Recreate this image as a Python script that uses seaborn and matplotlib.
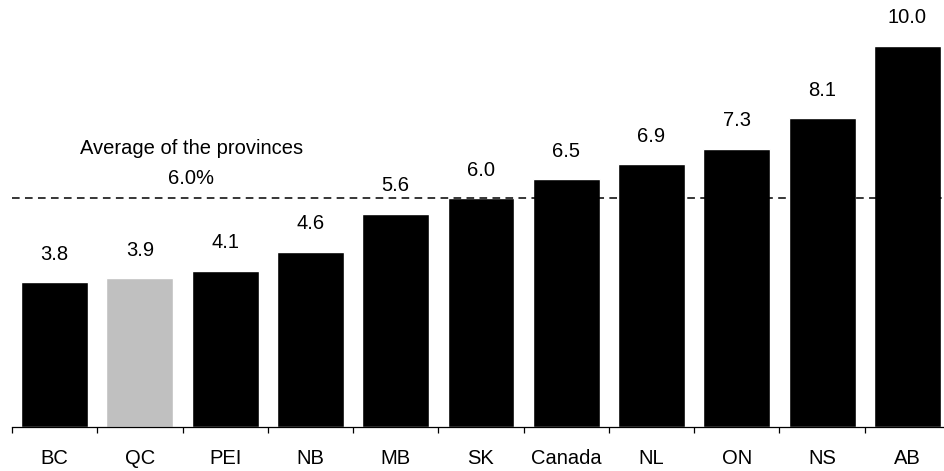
import matplotlib
matplotlib.use("Agg")
import matplotlib.pyplot as plt
import seaborn as sns
import pandas as pd

regions = ["BC", "QC", "PEI", "NB", "MB", "SK", "Canada", "NL", "ON", "NS", "AB"]
values = [3.8, 3.9, 4.1, 4.6, 5.6, 6.0, 6.5, 6.9, 7.3, 8.1, 10.0]
highlight = "QC"
provinces_avg = 6.0

sns.set_theme(style="white")
plt.rcParams["font.family"] = ["Liberation Sans", "DejaVu Sans"]
plt.rcParams["text.color"] = "black"

df = pd.DataFrame({"region": regions, "value": values})
colors = {r: ("#c0c0c0" if r == highlight else "black") for r in regions}

fig = plt.figure(figsize=(9.45, 4.71), dpi=100)
ax = fig.add_axes([12 / 945, 44 / 471, 938 / 945, 427 / 471])

sns.barplot(data=df, x="region", y="value", hue="region", palette=colors,
            order=regions, width=0.785, saturation=1, legend=False, ax=ax)

ax.set_xlim(-0.5, len(regions) - 0.5)
ax.set_ylim(0, 11.2)

FS = 14.5
for i, v in enumerate(values):
    ax.annotate(f"{v:.1f}", (i, v), xytext=(0, 20), textcoords="offset points",
                ha="center", va="center", fontsize=FS, color="black")

ax.axhline(provinces_avg, color="black", lw=1.1, ls=(0, (5, 3.5)))
ax.annotate("Average of the provinces", (1.6, provinces_avg), xytext=(0, 36),
            textcoords="offset points", ha="center", va="center",
            fontsize=FS, color="black")
ax.annotate(f"{provinces_avg:.1f}%", (1.6, provinces_avg), xytext=(0, 14),
            textcoords="offset points", ha="center", va="center",
            fontsize=FS, color="black")

for s in ["top", "right", "left"]:
    ax.spines[s].set_visible(False)
ax.spines["bottom"].set_color("black")
ax.spines["bottom"].set_linewidth(0.9)
ax.set_yticks([])
ax.set_xlabel("")
ax.set_ylabel("")

ax.set_xticks([i - 0.5 for i in range(len(regions))], minor=True)
ax.tick_params(axis="x", which="minor", length=4, width=0.9, color="black", bottom=True)
ax.tick_params(axis="x", which="major", length=0, labelsize=FS, pad=16, labelcolor="black")

fig.savefig("out.png", dpi=100)
